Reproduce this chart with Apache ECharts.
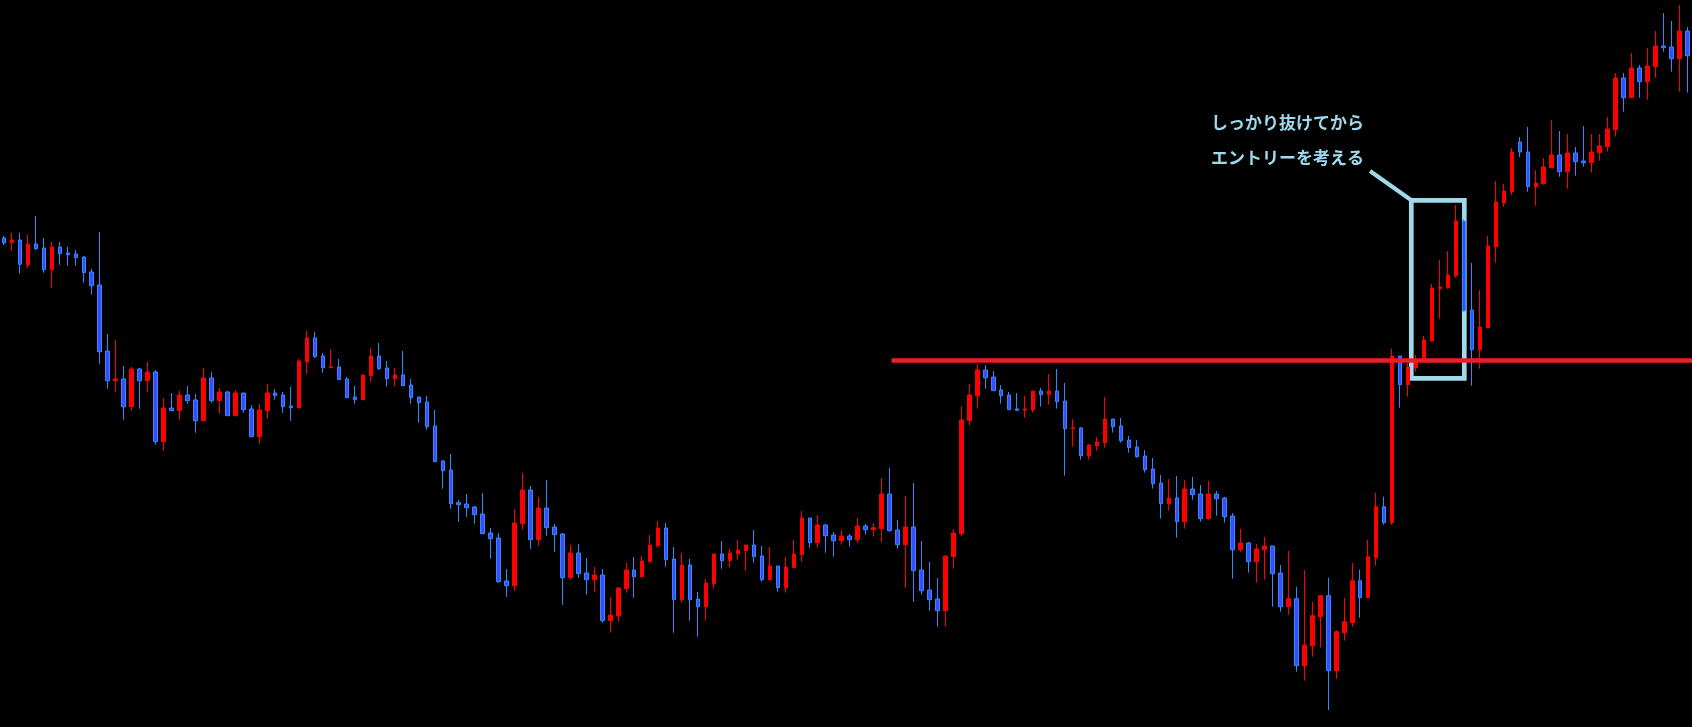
<!DOCTYPE html>
<html>
<head>
<meta charset="utf-8">
<script src="https://cdn.jsdelivr.net/npm/echarts@6/dist/echarts.min.js"></script>
<style>
  html, body { margin: 0; background: #000; }
  #main { width: 1692px; height: 727px; }
</style>
</head>
<body>
<div id="main"></div>
<script>
// price, one value per bar (oldest first)
var opens = [
  489, 484.3, 487, 462, 483, 479, 457.3, 480, 474, 473,
  470, 455, 442, 376, 346.3, 348, 320.3, 358, 346.3, 355,
  285.3, 319, 316.3, 332, 327, 306.3, 349, 326.3, 335, 311.3,
  334, 318, 290.3, 316.3, 334, 332, 321, 319.3, 365, 389,
  371, 359.3, 360, 348, 330, 327.3, 351.3, 371, 359, 348.3,
  352, 342, 330, 325, 301, 266, 257, 224.3, 223, 220,
  213, 194, 189, 146, 141.3, 203.3, 237, 187.3, 219, 200,
  193, 149.3, 174, 154, 147.3, 152, 106.3, 111.3, 138.3, 157,
  150.3, 165.3, 181.3, 199, 168, 127.3, 162, 128, 120.3, 143.3,
  173, 166.3, 173.3, 176.3, 182, 171, 147.3, 161, 139.3, 159.3,
  172.3, 209, 184.3, 202, 192, 186.3, 191, 187.3, 201, 197.3,
  198.3, 233, 197, 182.3, 200, 157, 137, 128, 116.3, 170.3,
  193.3, 306.3, 331.3, 357, 350, 337, 332, 318, 317, 317.3,
  336, 332.3, 336, 326, 298.3, 299, 271.3, 281.3, 284.3, 308,
  301, 287, 280, 271, 258, 244, 223.3, 229, 205.3, 238,
  233, 208.3, 233, 229, 211, 177.3, 184, 165.3, 177.3, 181,
  154, 120.3, 128.3, 61.3, 81.3, 110.3, 131.3, 56.3, 94.3, 104.3,
  146.3, 129.3, 169.3, 220.3, 204.3, 371, 342.3, 359.3, 368.7, 386,
  438.3, 439.3, 451.3, 506, 417, 377.3, 399.3, 480.3, 524, 535.3,
  585, 575, 540.3, 543.3, 559.3, 572, 555.3, 574, 566, 564.3,
  574.3, 580.3, 597.3, 649, 629.3, 659, 645.3, 660.3, 681, 680,
  668.3, 696
];
var closes = [
  484, 487, 462.7, 483, 478.3, 457.3, 480, 473.3, 472.3, 469.3,
  454.3, 441.3, 375.3, 346.3, 348, 320.3, 358, 346.3, 355, 285.3,
  319, 316.3, 332, 326.3, 306.3, 349, 326.3, 335, 311.3, 334,
  317.3, 290.3, 317, 334, 331.3, 320.3, 319.3, 366, 389, 370.3,
  359.3, 360.3, 347.3, 329.3, 327.3, 352, 371, 358.3, 348.3, 352,
  341.3, 329.3, 324.3, 300.3, 265.3, 256.3, 223.3, 222.3, 219.3, 212.3,
  193.3, 188.3, 145.3, 141.3, 204, 237, 187.3, 219, 199.3, 192.3,
  149.3, 174, 153.3, 147.3, 152, 106.3, 112, 139, 157, 150.3,
  166, 182, 199, 167.3, 127.3, 162, 127.3, 120.3, 144, 173,
  166.3, 174, 177, 182, 170.3, 147.3, 161, 139.3, 160, 173,
  209, 184.3, 202, 191.3, 186.3, 191, 187.3, 201, 197.3, 199.3,
  233, 196.3, 182.3, 200, 156.3, 136.3, 127.3, 116.3, 171, 194,
  307, 332, 357, 349.3, 336.3, 331.3, 317.3, 316.7, 318, 336,
  332.3, 336, 325.3, 298.3, 299.3, 271.3, 282, 285, 308, 300.3,
  286.3, 279.3, 270.3, 257.3, 243.3, 223.3, 229, 205.3, 238, 232.3,
  208.3, 233, 228.3, 210.3, 177.3, 184, 165.3, 178, 181, 153.3,
  120.3, 128.3, 61.3, 82, 111.3, 131.3, 56.3, 95.3, 105.3, 146.3,
  129.3, 170.3, 220.3, 204.3, 371, 342.3, 360, 365, 387, 439,
  440, 452, 506, 416.3, 377.3, 400, 481, 525, 536, 575,
  575, 540.3, 544, 560, 572, 555.3, 574, 565.3, 564.3, 575,
  581, 598, 649, 629.3, 659, 645.3, 661, 681, 679.3, 668.3,
  696, 671.3
];
var lows = [
  482, 476.3, 453.3, 459.3, 477, 454.3, 439.3, 462.3, 461.3, 461.3,
  444.3, 432.3, 363.3, 338.3, 335.3, 307.3, 316.3, 318.3, 335.3, 282.3,
  276.3, 316.3, 307.3, 323.3, 294.3, 306.3, 324.3, 313.3, 311.3, 311.3,
  314.3, 290.3, 283.3, 308.3, 327.3, 314.3, 306.3, 318.3, 353.3, 369.3,
  354.3, 359.3, 347.3, 329.3, 323.3, 327.3, 345.3, 357.3, 340.3, 340.3,
  341.3, 323.3, 304.3, 297.3, 265.3, 238.3, 218.3, 205.3, 210.3, 203.3,
  193.3, 168.3, 144.3, 130.3, 136.3, 197.3, 178.3, 181.3, 191.3, 175.3,
  122.3, 147.3, 149.3, 132.3, 135.3, 104.3, 94.3, 105.3, 134.3, 129.3,
  149.3, 164.3, 179.3, 160.3, 94.3, 124.3, 106.3, 90.3, 106.3, 138.3,
  158.3, 159.3, 167.3, 156.3, 164.3, 145.3, 146.3, 135.3, 134.3, 159.3,
  165.3, 179.3, 179.3, 174.3, 170.3, 182.3, 180.3, 184.3, 192.3, 190.3,
  184.3, 195.3, 178.3, 139.3, 125.3, 132.3, 116.3, 100.3, 100.3, 158.3,
  191.3, 301.3, 318.3, 338.3, 336.3, 323.3, 317.3, 316.3, 309.3, 314.3,
  320.3, 322.3, 318.3, 251.3, 280.3, 267.3, 267.3, 276.3, 279.3, 294.3,
  284.3, 274.3, 269.3, 254.3, 238.3, 208.3, 216.3, 189.3, 198.3, 227.3,
  205.3, 207.3, 211.3, 204.3, 148.3, 175.3, 154.3, 144.3, 147.3, 120.3,
  115.3, 112.3, 55.3, 46.3, 70.3, 79.3, 17, 48.3, 86.3, 100.3,
  109.3, 129.3, 161.3, 202.3, 202.3, 319.3, 330.3, 355.3, 365, 386,
  408.3, 438.3, 449.3, 415, 341.3, 358.3, 399.3, 464.3, 520.3, 532,
  570, 535.3, 521.3, 542.3, 559.3, 550.3, 538.3, 551.3, 560.3, 554.3,
  566.3, 575.3, 590.3, 615.3, 629.3, 629.3, 627.3, 649.3, 675.3, 655.3,
  635.3, 634.3
];
var highs = [
  491, 494.3, 494.3, 492.3, 511, 489, 485, 485, 480.3, 477,
  471, 458, 495, 393, 387, 361, 360, 359, 365, 357,
  329, 334, 336.3, 341, 333, 359, 355, 339, 336, 337,
  334, 322, 323, 343, 338, 335, 340, 368, 396, 395,
  374, 378, 368, 350, 341, 352, 379, 384, 366, 359,
  376, 348, 330, 331, 317, 267, 273, 227, 233, 221,
  234, 199, 194, 158, 218, 254, 241, 230, 247, 203,
  194, 182, 183, 169, 160, 158, 130, 140, 164, 170,
  171, 192, 206, 204, 180, 174, 168, 135, 148, 173,
  186, 178, 187, 182, 197, 181, 180, 161, 170, 187,
  216, 209, 212, 203, 195, 197, 193, 209, 203, 204,
  249, 259, 207, 231, 244, 186, 165, 149, 171, 198,
  321, 343, 363, 362, 356, 342, 335, 334, 331, 336,
  339, 353, 358, 344, 308, 300, 283, 290, 330, 308,
  309, 291, 287, 277, 269, 252, 248, 251, 247, 250,
  242, 246, 236, 230, 214, 198, 185, 183, 190, 181,
  162, 176.3, 140.3, 157, 125.3, 131.3, 149.3, 97, 129.3, 164.3,
  157.3, 187.3, 234.3, 230.3, 378.3, 371, 364, 372.3, 391, 443,
  467, 476, 522, 508, 464, 437, 491, 546, 543, 579,
  590, 600, 557, 569, 607, 596, 593, 580, 601, 593,
  593, 610, 654, 654, 674, 662, 679, 696, 714, 706,
  722, 700
];

// resistance line: level and the bar where it is drawn from
var breakLevel = 366.7;
var lineFrom = 111;
var noteLines = ['しっかり抜けてから', 'エントリーを考える'];

var bars = opens.map(function (v, i) { return 'b' + i; });
var candles = opens.map(function (o, i) {
  return [o, closes[i], lows[i], highs[i]];
});

var noteColor = '#9fd9ec';
var myChart = echarts.init(document.getElementById('main'));

var option = {
  animation: false,
  backgroundColor: '#000000',
  grid: { left: -4.67, right: 0.67, top: 0, bottom: 0 },
  xAxis: { type: 'category', data: bars, show: false },
  yAxis: { type: 'value', min: 0, max: 727, show: false },
  series: [{
    type: 'candlestick',
    data: candles,
    barWidth: 4,
    itemStyle: {
      color: '#ff0000',
      color0: '#3b4cff',
      borderColor: '#ff0000',
      borderColor0: '#2f8cff',
      borderWidth: 1
    },
    markLine: {
      silent: true,
      symbol: 'none',
      label: { show: false },
      lineStyle: { color: '#ee1c25', width: 4.5, type: 'solid' },
      data: []
    }
  }],
  graphic: [
    {
      type: 'text', left: 1211, top: 114,
      style: { text: noteLines[0], fill: noteColor, font: 'bold 17px "Noto Sans CJK JP"' }
    },
    {
      type: 'text', left: 1211, top: 149,
      style: { text: noteLines[1], fill: noteColor, font: 'bold 17px "Noto Sans CJK JP"' }
    },
    {
      type: 'line',
      shape: { x1: 1370, y1: 171, x2: 1411, y2: 200 },
      style: { stroke: noteColor, lineWidth: 4 }
    },
    {
      type: 'rect',
      shape: { x: 1411.3, y: 200.3, width: 53, height: 178 },
      style: { fill: 'none', stroke: noteColor, lineWidth: 4.7 }
    }
  ]
};

myChart.setOption(option);

// the level line runs from the chosen bar out to the right edge of the chart
var start = myChart.convertToPixel({ gridIndex: 0 }, [bars[lineFrom], breakLevel]);
myChart.setOption({
  series: [{
    markLine: {
      data: [[
        { x: start[0] + 2, y: start[1] },
        { x: myChart.getWidth(), y: start[1] }
      ]]
    }
  }]
});
</script>
</body>
</html>
